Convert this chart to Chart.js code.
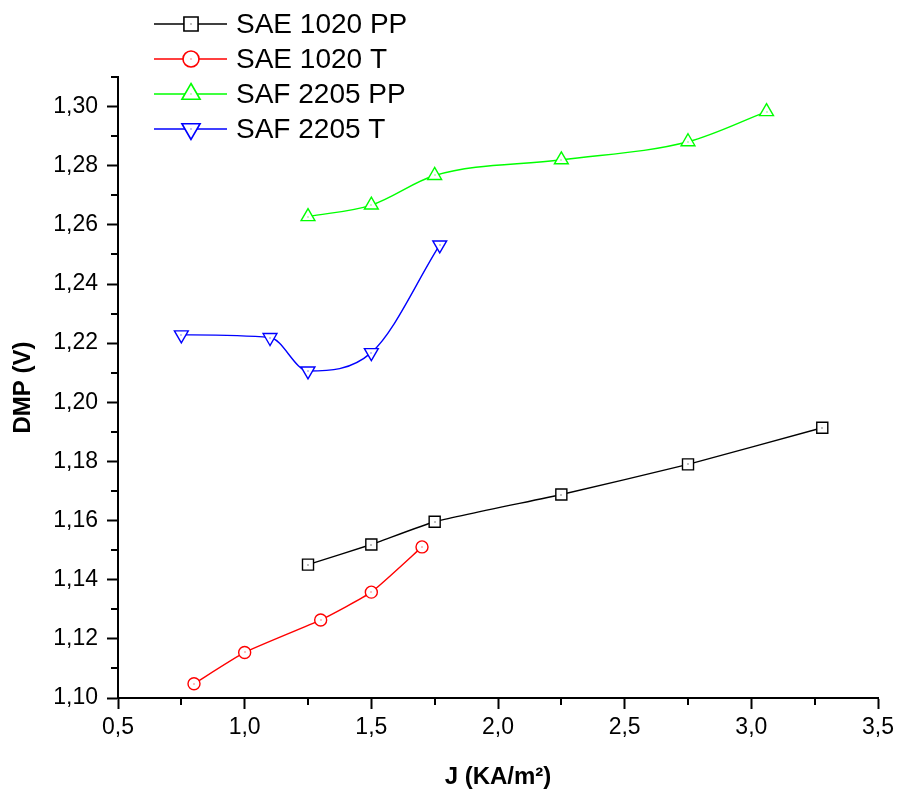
<!DOCTYPE html>
<html>
<head>
<meta charset="utf-8">
<script src="https://cdn.jsdelivr.net/npm/chart.js@4/dist/chart.umd.min.js"></script>
<style>
  html, body { margin: 0; padding: 0; background: #fff; }
  #wrap { width: 899px; height: 792px; position: relative; }
</style>
</head>
<body>
<div id="wrap"><canvas id="c" width="899" height="792"></canvas></div>
<script>
// ---- data ----
const seriesNames = ['SAE 1020 PP', 'SAE 1020 T', 'SAF 2205 PP', 'SAF 2205 T'];

const sae1020ppJ = [1.25, 1.50, 1.75, 2.25, 2.75, 3.28];
const sae1020ppV = [1.1451, 1.1519, 1.1596, 1.1688, 1.1790, 1.1914];

const sae1020tJ = [0.80, 1.00, 1.30, 1.50, 1.70];
const sae1020tV = [1.1048, 1.1154, 1.1264, 1.1358, 1.1511];

const saf2205ppJ = [1.25, 1.50, 1.75, 2.25, 2.75, 3.06];
const saf2205ppV = [1.2628, 1.2667, 1.2767, 1.2820, 1.2881, 1.2983];

const saf2205tJ = [0.75, 1.10, 1.25, 1.50, 1.77];
const saf2205tV = [1.2228, 1.2219, 1.2106, 1.2168, 1.2532];

const xTickValues = [0.5, 1.0, 1.5, 2.0, 2.5, 3.0, 3.5];
const yTickValues = [1.10, 1.12, 1.14, 1.16, 1.18, 1.20, 1.22, 1.24, 1.26, 1.28, 1.30];
const xMinorValues = [0.75, 1.25, 1.75, 2.25, 2.75, 3.25];
const yMinorValues = [1.11, 1.13, 1.15, 1.17, 1.19, 1.21, 1.23, 1.25, 1.27, 1.29, 1.31];

const xTitle = 'J (KA/m²)';
const yTitle = 'DMP (V)';

// ---- helpers ----
function pts(xs, ys) { return xs.map((x, i) => ({ x: x, y: ys[i] })); }
const FONT = "'Liberation Sans', Arial, Helvetica, sans-serif";

const styles = [
  { color: '#000000', pointStyle: 'rect', radius: 7.8, legendRadius: 10, rotation: 0, tension: 0.15, mode: 'default' },
  { color: '#ff0000', pointStyle: 'circle', radius: 6, legendRadius: 8, rotation: 0, tension: 0.15, mode: 'default' },
  { color: '#00ff00', pointStyle: 'triangle', radius: 8, legendRadius: 10.5, rotation: 0, tension: 0.4, mode: 'monotone' },
  { color: '#0000ff', pointStyle: 'triangle', radius: 8, legendRadius: 10.5, rotation: 180, tension: 0.4, mode: 'monotone' }
];
const allData = [
  pts(sae1020ppJ, sae1020ppV),
  pts(sae1020tJ, sae1020tV),
  pts(saf2205ppJ, saf2205ppV),
  pts(saf2205tJ, saf2205tV)
];

const datasets = allData.map((d, i) => ({
  label: seriesNames[i],
  data: d,
  borderColor: styles[i].color,
  backgroundColor: '#ffffff',
  borderWidth: 1.4,
  pointStyle: styles[i].pointStyle,
  pointRadius: styles[i].radius,
  pointRotation: styles[i].rotation,
  pointBorderWidth: 1.4,
  pointBorderColor: styles[i].color,
  pointBackgroundColor: '#ffffff',
  tension: styles[i].tension,
  cubicInterpolationMode: styles[i].mode,
  fill: false
}));

// minor ticks, legend and centre dots drawn with the chart's own scales
const extrasPlugin = {
  id: 'extras',
  afterDraw(chart) {
    const ctx = chart.ctx;
    const xs = chart.scales.x, ys = chart.scales.y;
    const ca = chart.chartArea;
    ctx.save();
    ctx.strokeStyle = '#000';
    ctx.lineWidth = 2;
    ctx.beginPath();
    xMinorValues.forEach(v => {
      const px = Math.round(xs.getPixelForValue(v));
      ctx.moveTo(px, ca.bottom);
      ctx.lineTo(px, ca.bottom + 7);
    });
    yMinorValues.forEach(v => {
      const py = Math.round(ys.getPixelForValue(v));
      ctx.moveTo(ca.left, py);
      ctx.lineTo(ca.left - 7, py);
    });
    ctx.stroke();

    // small centre dots in markers
    chart.data.datasets.forEach((ds, i) => {
      const meta = chart.getDatasetMeta(i);
      ctx.fillStyle = styles[i].color;
      meta.data.forEach(el => {
        ctx.fillRect(Math.round(el.x) - 0.5, Math.round(el.y) - 0.5, 1, 1);
      });
    });

    // legend
    const rowY = [24, 59, 94, 129];
    ctx.font = '28px ' + FONT;
    ctx.textBaseline = 'middle';
    ctx.textAlign = 'left';
    chart.data.datasets.forEach((ds, i) => {
      const y = rowY[i];
      ctx.strokeStyle = styles[i].color;
      ctx.lineWidth = 1.4;
      ctx.beginPath();
      ctx.moveTo(154, y);
      ctx.lineTo(227, y);
      ctx.stroke();
      ctx.fillStyle = '#ffffff';
      ctx.strokeStyle = styles[i].color;
      ctx.lineWidth = 1.6;
      Chart.helpers.drawPoint(ctx, {
        pointStyle: styles[i].pointStyle,
        rotation: styles[i].rotation,
        radius: styles[i].legendRadius,
        borderWidth: 1.6
      }, 191, y);
      ctx.fillStyle = styles[i].color;
      ctx.fillRect(190.5, y - 0.5, 1, 1);
      ctx.fillStyle = '#000';
      ctx.fillText(ds.label, 236, y + 1);
    });
    ctx.restore();
  }
};

new Chart(document.getElementById('c'), {
  type: 'line',
  data: { datasets: datasets },
  options: {
    responsive: false,
    animation: false,
    layout: { padding: { left: 0, right: 19, top: 77, bottom: 0 } },
    plugins: {
      legend: { display: false },
      tooltip: { enabled: false }
    },
    scales: {
      x: {
        type: 'linear',
        min: 0.5,
        max: 3.5,
        afterFit: s => { s.height = 94; },
        afterBuildTicks: s => { s.ticks = xTickValues.map(v => ({ value: v })); },
        ticks: {
          color: '#000',
          font: { family: FONT, size: 23 },
          padding: 5,
          maxRotation: 0,
          autoSkip: false,
          callback: v => Number(v).toFixed(1).replace('.', ',')
        },
        grid: { drawOnChartArea: false, tickLength: 11, tickWidth: 2, tickColor: '#000' },
        border: { display: true, color: '#000', width: 2 },
        title: {
          display: true,
          text: xTitle,
          color: '#000',
          font: { family: FONT, size: 24, weight: 'bold' },
          padding: { top: 0, bottom: 0 }
        }
      },
      y: {
        type: 'linear',
        min: 1.10,
        max: 1.31,
        afterFit: s => { s.width = 118; },
        afterBuildTicks: s => { s.ticks = yTickValues.map(v => ({ value: v })); },
        ticks: {
          color: '#000',
          font: { family: FONT, size: 23 },
          padding: 9,
          autoSkip: false,
          callback: v => Number(v).toFixed(2).replace('.', ',')
        },
        grid: { drawOnChartArea: false, tickLength: 11, tickWidth: 2, tickColor: '#000' },
        border: { display: true, color: '#000', width: 2 },
        title: {
          display: true,
          text: yTitle,
          color: '#000',
          font: { family: FONT, size: 24, weight: 'bold' },
          padding: { top: 9, bottom: 0 }
        }
      }
    }
  },
  plugins: [extrasPlugin]
});
</script>
</body>
</html>
